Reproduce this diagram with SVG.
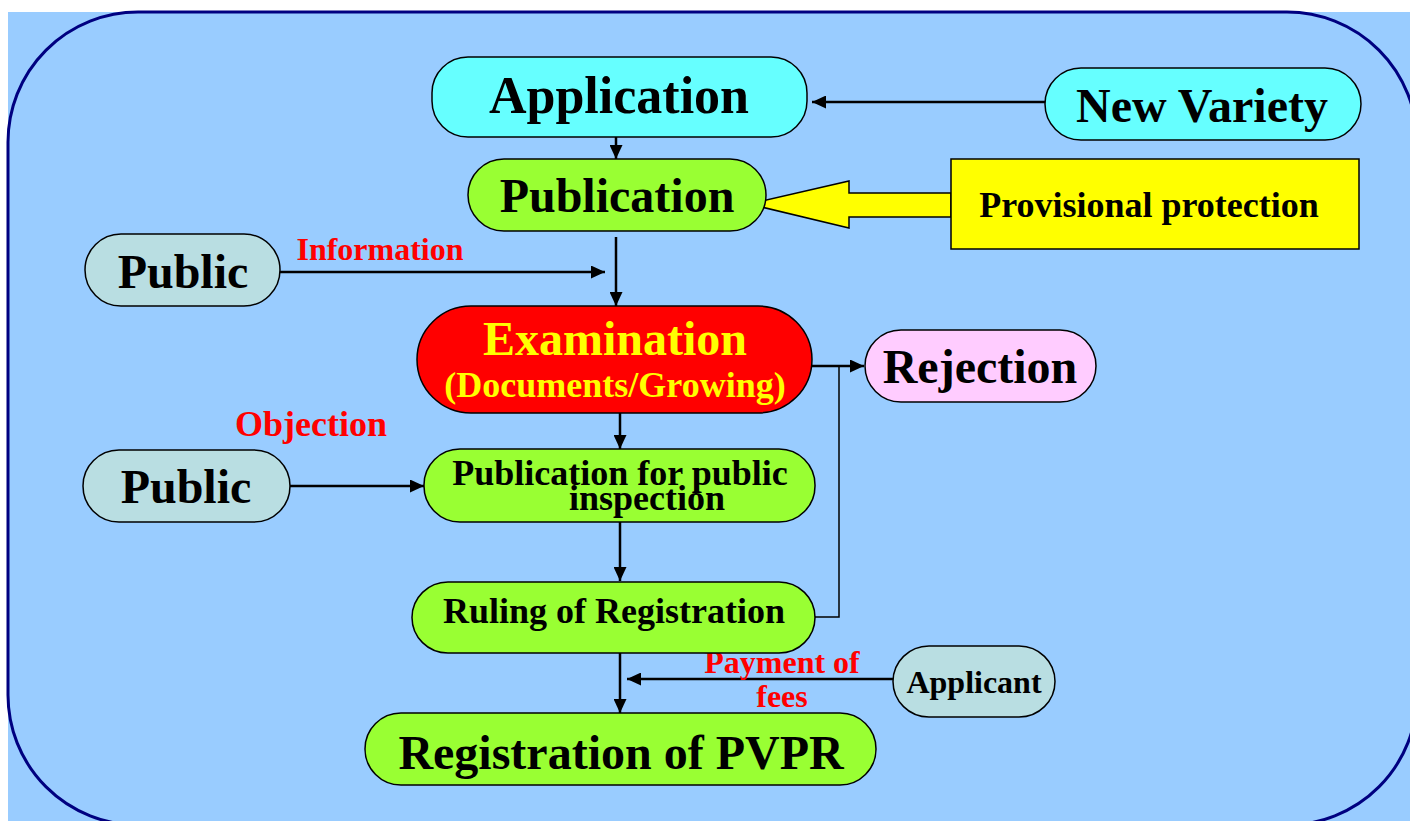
<svg xmlns="http://www.w3.org/2000/svg" width="1410" height="821" viewBox="0 0 1410 821">
  <defs>
    <marker id="head" markerUnits="userSpaceOnUse" markerWidth="15" markerHeight="13" refX="14" refY="6.5" orient="auto">
      <path d="M0,0 L14,6.5 L0,13 z" fill="#000"/>
    </marker>
    <style>
      .node { stroke: #000; stroke-width: 1.5; }
      .t { font-family: "Liberation Serif", "Times New Roman", serif; font-weight: bold; fill: #000; text-anchor: middle; }
      .lbl { font-family: "Liberation Serif", "Times New Roman", serif; font-weight: bold; fill: #FF0000; text-anchor: middle; }
      .flow { stroke: #000; stroke-width: 2.5; fill: none; }
      .thin { stroke: #000; stroke-width: 1.5; fill: none; }
      .cyan { fill: #66FFFF; }
      .green { fill: #99FF33; }
      .grey { fill: #B9DEE2; }
    </style>
  </defs>

  <!-- backdrop panel -->
  <rect x="0" y="0" width="1410" height="821" fill="#FFFFFF"/>
  <rect x="8" y="12" width="1402" height="809" fill="#99CCFF"/>
  <rect x="8" y="12" width="1409" height="813" rx="130" ry="130" fill="none" stroke="#000080" stroke-width="3"/>

  <!-- connectors -->
  <g id="connectors">
    <line class="flow" x1="1045" y1="102" x2="812" y2="102" marker-end="url(#head)"/>
    <line class="flow" x1="616" y1="137" x2="616" y2="159" marker-end="url(#head)"/>
    <line class="flow" x1="616" y1="237" x2="616" y2="306" marker-end="url(#head)"/>
    <line class="flow" x1="280" y1="272" x2="605" y2="272" marker-end="url(#head)"/>
    <line class="flow" x1="812" y1="366" x2="864" y2="366" marker-end="url(#head)"/>
    <polyline class="thin" points="815,617 839,617 839,366"/>
    <line class="flow" x1="620" y1="407" x2="620" y2="449" marker-end="url(#head)"/>
    <line class="flow" x1="290" y1="486" x2="424" y2="486" marker-end="url(#head)"/>
    <line class="flow" x1="620" y1="522" x2="620" y2="581" marker-end="url(#head)"/>
    <line class="flow" x1="620" y1="653" x2="620" y2="713" marker-end="url(#head)"/>
    <line class="flow" x1="893" y1="679" x2="627" y2="679" marker-end="url(#head)"/>
    <!-- block arrow from provisional protection -->
    <polygon points="951,193 849,193 849,181 749,204 849,228 849,217 951,217" fill="#FFFF00" stroke="#000" stroke-width="1.5"/>
    <text class="lbl" x="380" y="260" font-size="32">Information</text>
    <text class="lbl" x="311" y="436" font-size="36">Objection</text>
    <text class="lbl" x="782" y="673" font-size="32">Payment of</text>
    <text class="lbl" x="782" y="707" font-size="32">fees</text>
  </g>

  <g id="application">
    <rect class="node cyan" x="432" y="57" width="375" height="80" rx="36"/>
    <text class="t" x="619" y="113" font-size="52">Application</text>
  </g>

  <g id="new-variety">
    <rect class="node cyan" x="1045" y="68" width="316" height="72" rx="36"/>
    <text class="t" x="1202" y="122" font-size="48">New Variety</text>
  </g>

  <g id="publication">
    <rect class="node green" x="468" y="159" width="298" height="72" rx="36"/>
    <text class="t" x="617" y="212" font-size="48">Publication</text>
  </g>

  <g id="provisional-protection">
    <rect x="951" y="159" width="408" height="90" fill="#FFFF00" stroke="#000" stroke-width="1.5"/>
    <text class="t" x="1149" y="217" font-size="36">Provisional protection</text>
  </g>

  <g id="public-information">
    <rect class="node grey" x="85" y="234" width="195" height="72" rx="36"/>
    <text class="t" x="183" y="288" font-size="48">Public</text>
  </g>

  <g id="examination">
    <rect class="node" x="417" y="306" width="395" height="107" rx="54" fill="#FF0000"/>
    <text class="t" x="615" y="355" font-size="48" fill="#FFFF00" style="fill:#FFFF00">Examination</text>
    <text class="t" x="615" y="397" font-size="36" style="fill:#FFFF00">(Documents/Growing)</text>
  </g>

  <g id="rejection">
    <rect class="node" x="865" y="330" width="231" height="72" rx="36" fill="#FFCCFF"/>
    <text class="t" x="980" y="383" font-size="48">Rejection</text>
  </g>

  <g id="public-objection">
    <rect class="node grey" x="83" y="450" width="207" height="72" rx="36"/>
    <text class="t" x="186" y="503" font-size="48">Public</text>
  </g>

  <g id="publication-inspection">
    <rect class="node green" x="424" y="449" width="391" height="73" rx="36"/>
    <text class="t" x="620" y="485" font-size="36">Publication for public</text>
    <text class="t" x="647" y="510" font-size="36">inspection</text>
  </g>

  <g id="ruling">
    <rect class="node green" x="412" y="582" width="403" height="71" rx="36"/>
    <text class="t" x="614" y="623" font-size="36">Ruling of Registration</text>
  </g>

  <g id="applicant">
    <rect class="node grey" x="893" y="646" width="162" height="71" rx="36"/>
    <text class="t" x="974" y="693" font-size="32">Applicant</text>
  </g>

  <g id="registration">
    <rect class="node green" x="365" y="713" width="511" height="72" rx="36"/>
    <text class="t" x="621" y="769" font-size="48">Registration of PVPR</text>
  </g>
</svg>
